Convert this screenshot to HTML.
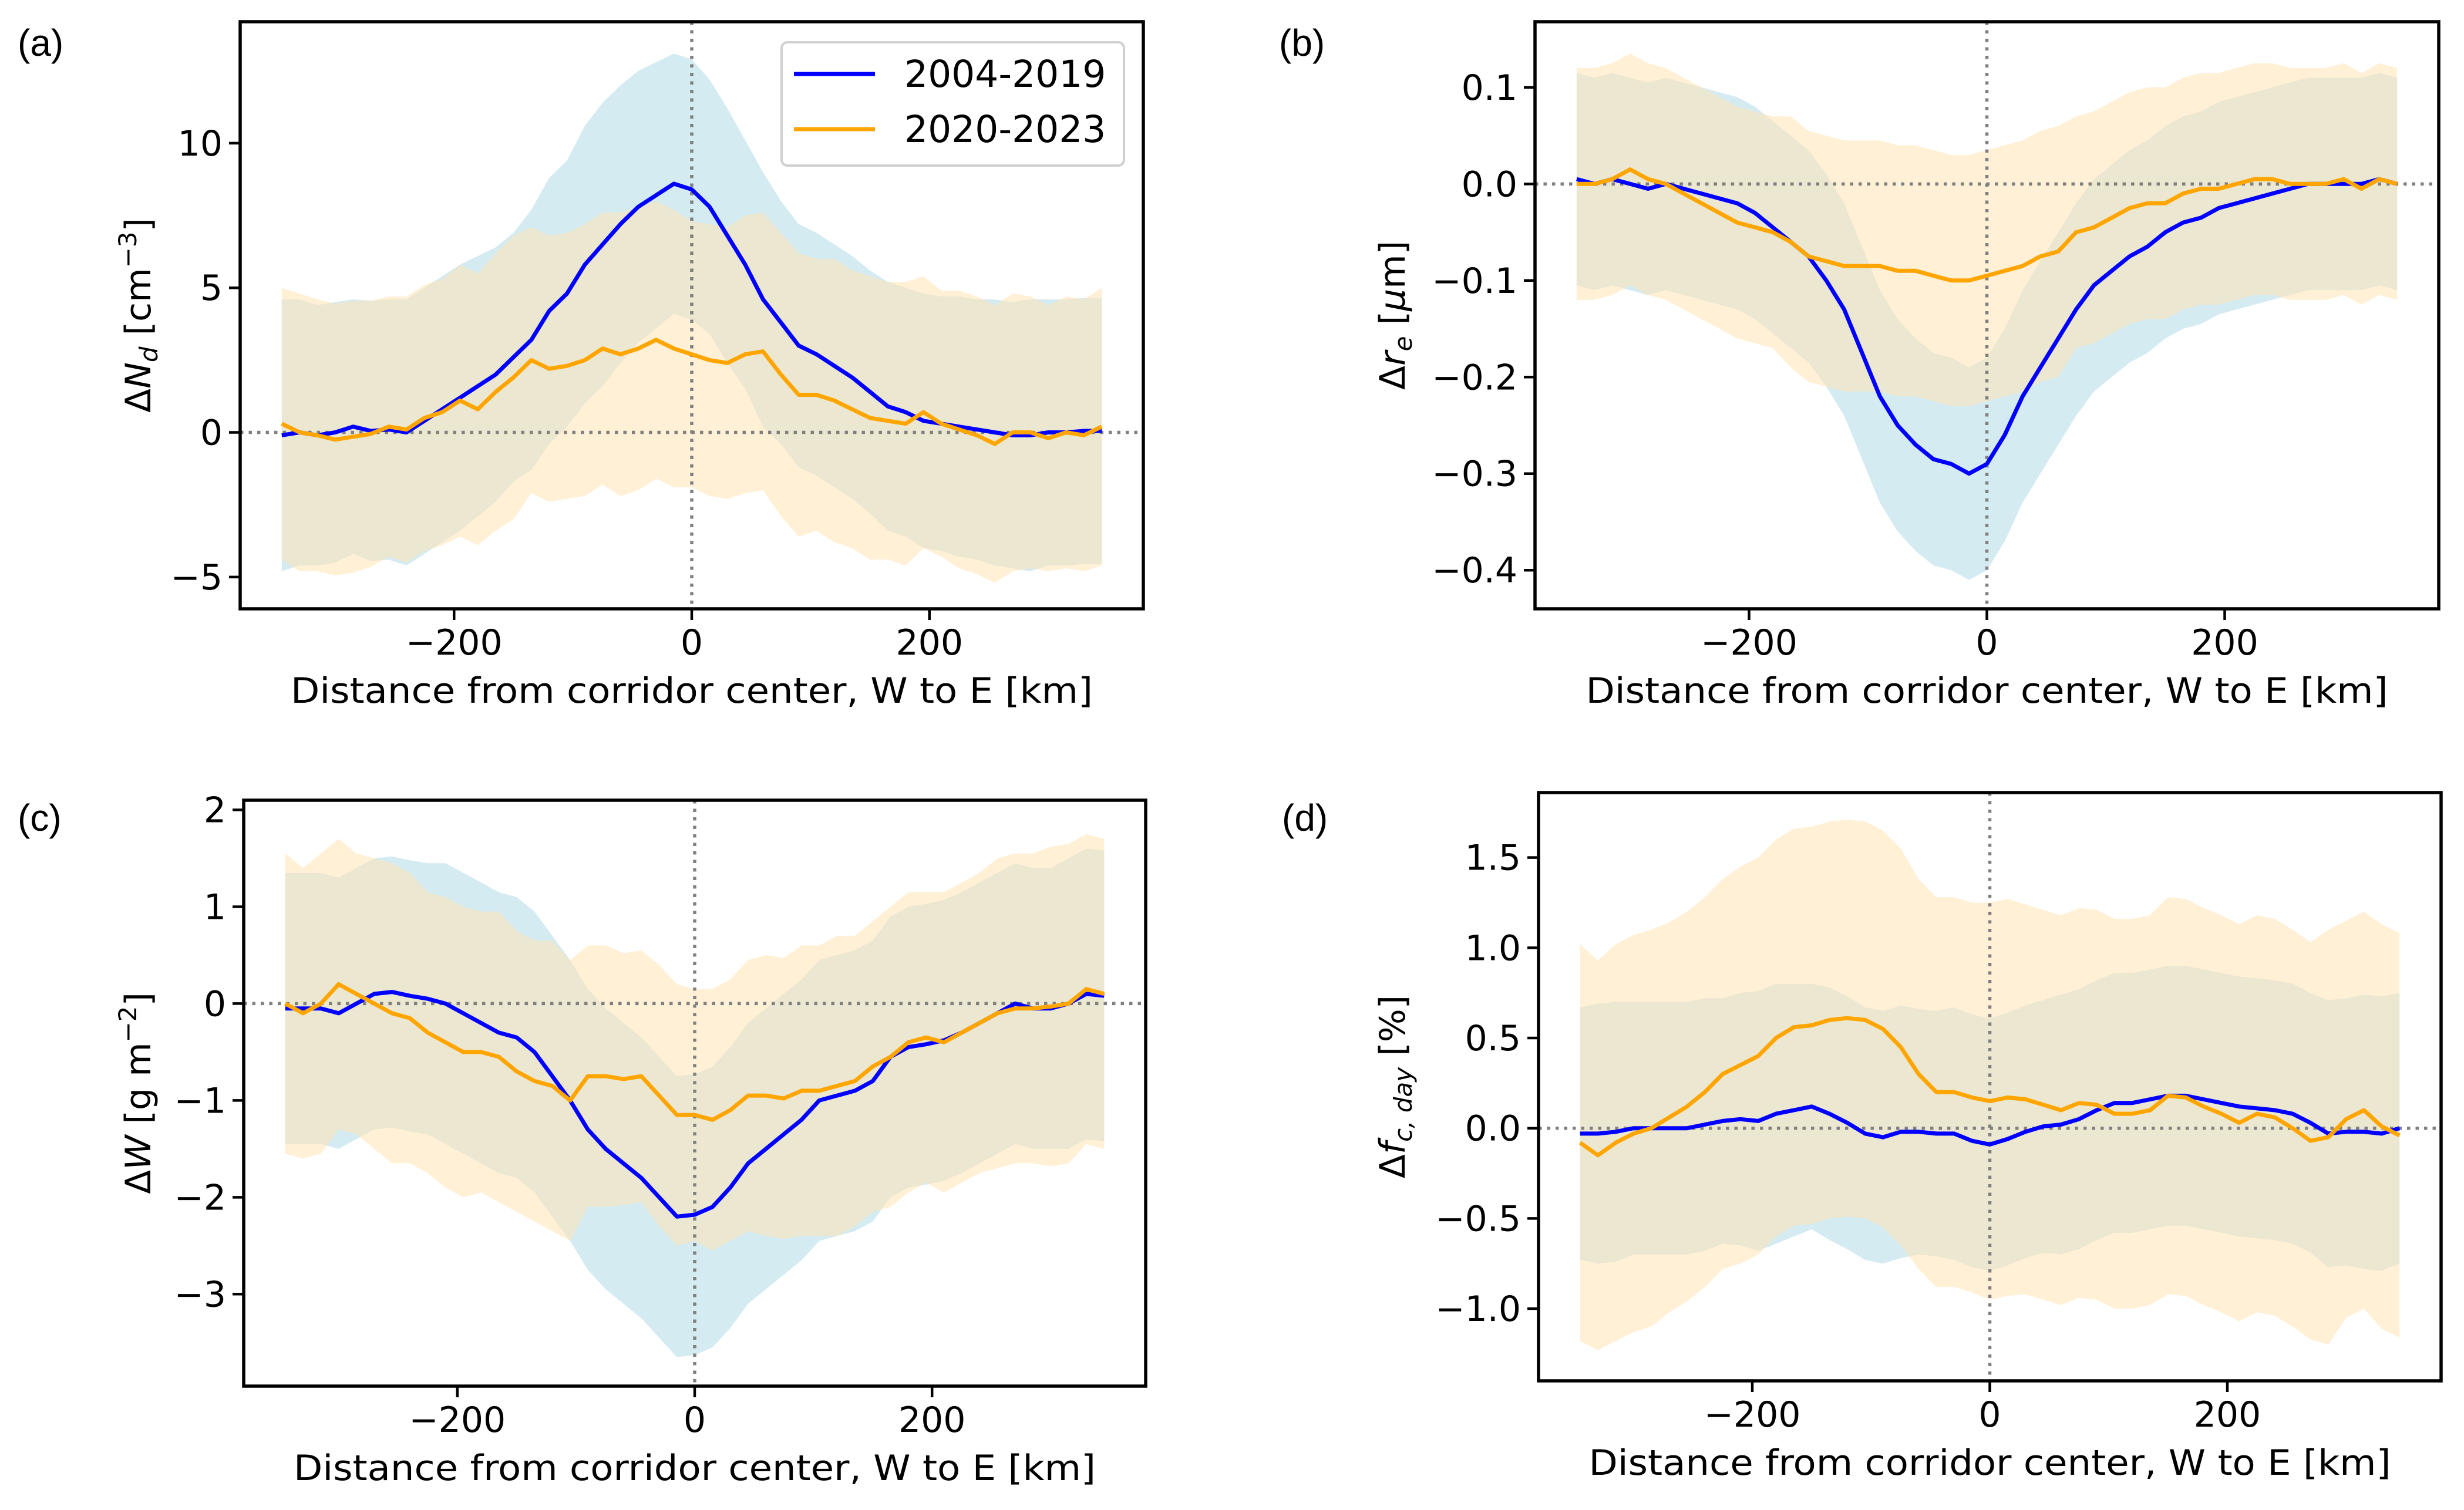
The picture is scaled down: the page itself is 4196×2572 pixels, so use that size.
<!DOCTYPE html>
<html><head><meta charset="utf-8"><style>
html,body{margin:0;padding:0;background:#fff;}
svg{display:block;font-family:"DejaVu Sans","Liberation Sans",sans-serif;}
</style></head><body>
<svg id="fig" width="4196" height="2572" viewBox="0 0 4196 2572" xmlns="http://www.w3.org/2000/svg"></svg>
<script>
const xs = [-345,-330,-315,-300,-285,-270,-255,-240,-225,-210,-195,-180,-165,-150,-135,-120,-105,-90,-75,-60,-45,-30,-15,0,15,30,45,60,75,90,105,120,135,150,165,180,195,210,225,240,255,270,285,300,315,330,345];
const seriesNames = ["2004-2019","2020-2023"];
const xTicks = [-200,0,200];
const xTickLabels = ["\u2212200","0","200"];

const aBlue = [-0.1,0,-0.1,0,0.2,0.05,0.1,0,0.4,0.8,1.2,1.6,2.0,2.6,3.2,4.2,4.8,5.8,6.5,7.2,7.8,8.2,8.6,8.4,7.8,6.8,5.8,4.6,3.8,3.0,2.7,2.3,1.9,1.4,0.9,0.7,0.4,0.3,0.2,0.1,0,-0.1,-0.1,0,0,0.05,0.05];
const aBlueSd = [4.7,4.6,4.5,4.5,4.4,4.5,4.5,4.6,4.6,4.6,4.6,4.5,4.4,4.3,4.5,4.6,4.6,4.8,4.9,4.8,4.7,4.6,4.5,4.5,4.4,4.4,4.3,4.4,4.2,4.2,4.2,4.2,4.2,4.2,4.3,4.3,4.4,4.4,4.5,4.5,4.6,4.6,4.7,4.6,4.6,4.6,4.6];
const aOrange = [0.3,0,-0.1,-0.25,-0.15,-0.05,0.2,0.1,0.5,0.7,1.1,0.8,1.4,1.9,2.5,2.2,2.3,2.5,2.9,2.7,2.9,3.2,2.9,2.7,2.5,2.4,2.7,2.8,2.0,1.3,1.3,1.1,0.8,0.5,0.4,0.3,0.7,0.3,0.1,-0.1,-0.4,0.0,0.0,-0.2,0.0,-0.1,0.2];
const aOrangeSd = [4.7,4.8,4.7,4.7,4.7,4.6,4.5,4.6,4.6,4.6,4.7,4.7,4.8,4.9,4.6,4.6,4.6,4.7,4.7,4.9,4.9,4.8,4.8,4.6,4.7,4.7,4.8,4.8,4.9,4.9,4.7,4.9,4.8,4.9,4.8,4.9,4.7,4.6,4.8,4.8,4.8,4.8,4.7,4.6,4.7,4.7,4.8];

const bBlue = [0.005,0,0.005,0,-0.005,0,-0.005,-0.01,-0.015,-0.02,-0.03,-0.045,-0.06,-0.075,-0.1,-0.13,-0.175,-0.22,-0.25,-0.27,-0.285,-0.29,-0.3,-0.29,-0.26,-0.22,-0.19,-0.16,-0.13,-0.105,-0.09,-0.075,-0.065,-0.05,-0.04,-0.035,-0.025,-0.02,-0.015,-0.01,-0.005,0,0,0,0,0.005,0];
const bBlueSd = [0.11,0.11,0.11,0.11,0.11,0.11,0.11,0.11,0.11,0.11,0.11,0.11,0.11,0.11,0.11,0.11,0.11,0.11,0.11,0.11,0.11,0.11,0.11,0.11,0.11,0.11,0.11,0.11,0.11,0.11,0.11,0.11,0.11,0.11,0.11,0.11,0.11,0.11,0.11,0.11,0.11,0.11,0.11,0.11,0.11,0.11,0.11];
const bOrange = [0,0,0.005,0.015,0.005,0,-0.01,-0.02,-0.03,-0.04,-0.045,-0.05,-0.06,-0.075,-0.08,-0.085,-0.085,-0.085,-0.09,-0.09,-0.095,-0.1,-0.1,-0.095,-0.09,-0.085,-0.075,-0.07,-0.05,-0.045,-0.035,-0.025,-0.02,-0.02,-0.01,-0.005,-0.005,0,0.005,0.005,0,0,0,0.005,-0.005,0.005,0];
const bOrangeSd = [0.12,0.12,0.12,0.12,0.12,0.12,0.12,0.12,0.12,0.12,0.12,0.12,0.13,0.13,0.13,0.13,0.13,0.13,0.13,0.13,0.13,0.13,0.13,0.13,0.13,0.13,0.13,0.13,0.12,0.12,0.12,0.12,0.12,0.12,0.12,0.12,0.12,0.12,0.12,0.12,0.12,0.12,0.12,0.12,0.12,0.12,0.12];

const cBlue = [-0.05,-0.05,-0.05,-0.1,0,0.1,0.12,0.08,0.05,0.0,-0.1,-0.2,-0.3,-0.35,-0.5,-0.75,-1.0,-1.3,-1.5,-1.65,-1.8,-2.0,-2.2,-2.18,-2.1,-1.9,-1.65,-1.5,-1.35,-1.2,-1.0,-0.95,-0.9,-0.8,-0.55,-0.45,-0.42,-0.38,-0.3,-0.2,-0.1,0,-0.05,-0.05,0,0.1,0.08];
const cBlueSd = [1.4,1.4,1.4,1.4,1.4,1.4,1.4,1.4,1.4,1.45,1.45,1.45,1.45,1.45,1.45,1.45,1.45,1.45,1.45,1.45,1.45,1.45,1.45,1.45,1.45,1.45,1.45,1.45,1.45,1.45,1.45,1.45,1.45,1.45,1.45,1.45,1.45,1.45,1.45,1.45,1.45,1.45,1.45,1.45,1.5,1.5,1.5];
const cOrange = [0,-0.1,0,0.2,0.1,0.0,-0.1,-0.15,-0.3,-0.4,-0.5,-0.5,-0.55,-0.7,-0.8,-0.85,-1.0,-0.75,-0.75,-0.78,-0.75,-0.95,-1.15,-1.15,-1.2,-1.1,-0.95,-0.95,-0.98,-0.9,-0.9,-0.85,-0.8,-0.65,-0.55,-0.4,-0.35,-0.4,-0.3,-0.2,-0.1,-0.05,-0.05,-0.03,0,0.15,0.1];
const cOrangeSd = [1.55,1.5,1.55,1.5,1.45,1.5,1.55,1.5,1.45,1.5,1.5,1.45,1.5,1.45,1.45,1.5,1.45,1.35,1.35,1.3,1.3,1.35,1.35,1.3,1.35,1.35,1.4,1.45,1.45,1.5,1.5,1.55,1.5,1.5,1.55,1.55,1.5,1.55,1.55,1.55,1.6,1.6,1.6,1.65,1.65,1.6,1.6];

const dBlue = [-0.03,-0.03,-0.02,0.0,0.0,0.0,0.0,0.02,0.04,0.05,0.04,0.08,0.1,0.12,0.08,0.03,-0.03,-0.05,-0.02,-0.02,-0.03,-0.03,-0.07,-0.09,-0.06,-0.02,0.01,0.02,0.05,0.1,0.14,0.14,0.16,0.18,0.18,0.16,0.14,0.12,0.11,0.1,0.08,0.03,-0.03,-0.02,-0.02,-0.03,0.0];
const dBlueSd = [0.7,0.72,0.72,0.7,0.7,0.7,0.7,0.7,0.68,0.7,0.72,0.72,0.7,0.68,0.7,0.7,0.7,0.7,0.7,0.68,0.68,0.7,0.7,0.7,0.7,0.7,0.7,0.72,0.72,0.72,0.72,0.72,0.72,0.72,0.72,0.72,0.72,0.72,0.72,0.72,0.72,0.72,0.74,0.74,0.76,0.76,0.75];
const dOrange = [-0.08,-0.15,-0.08,-0.03,0.0,0.06,0.12,0.2,0.3,0.35,0.4,0.5,0.56,0.57,0.6,0.61,0.6,0.55,0.45,0.3,0.2,0.2,0.17,0.15,0.17,0.16,0.13,0.1,0.14,0.13,0.08,0.08,0.1,0.18,0.17,0.12,0.08,0.03,0.08,0.06,0.0,-0.07,-0.05,0.05,0.1,0.01,-0.04];
const dOrangeSd = [1.1,1.08,1.1,1.1,1.1,1.08,1.08,1.08,1.08,1.1,1.1,1.1,1.1,1.1,1.1,1.1,1.1,1.1,1.1,1.08,1.08,1.08,1.08,1.1,1.1,1.08,1.08,1.08,1.08,1.08,1.08,1.08,1.08,1.1,1.1,1.1,1.1,1.1,1.1,1.1,1.1,1.1,1.15,1.1,1.1,1.12,1.12];

const aYTicks = [-5,0,5,10];
const aYTickLabels = ["\u22125","0","5","10"];
const bYTicks = [-0.4,-0.3,-0.2,-0.1,0,0.1];
const bYTickLabels = ["\u22120.4","\u22120.3","\u22120.2","\u22120.1","0.0","0.1"];
const cYTicks = [-3,-2,-1,0,1,2];
const cYTickLabels = ["\u22123","\u22122","\u22121","0","1","2"];
const dYTicks = [-1,-0.5,0,0.5,1,1.5];
const dYTickLabels = ["\u22121.0","\u22120.5","0.0","0.5","1.0","1.5"];

const NS = "http://www.w3.org/2000/svg";
const svg = document.getElementById("fig");
function mk(tag, attrs, parent){
  const e = document.createElementNS(NS, tag);
  for (const k in attrs) e.setAttribute(k, attrs[k]);
  (parent||svg).appendChild(e);
  return e;
}

const panels = [
  {id:"a", L:409, R:1947, T:37, B:1037, ymin:-6.1, ymax:14.2, blue:aBlue, blueSd:aBlueSd, orange:aOrange, orangeSd:aOrangeSd, yt:aYTicks, ytl:aYTickLabels, letterX:30, letterY:95},
  {id:"b", L:2614, R:4153, T:37, B:1037, ymin:-0.44, ymax:0.168, blue:bBlue, blueSd:bBlueSd, orange:bOrange, orangeSd:bOrangeSd, yt:bYTicks, ytl:bYTickLabels, letterX:2178, letterY:95},
  {id:"c", L:415, R:1951, T:1363, B:2361, ymin:-3.95, ymax:2.1, blue:cBlue, blueSd:cBlueSd, orange:cOrange, orangeSd:cOrangeSd, yt:cYTicks, ytl:cYTickLabels, letterX:30, letterY:1415},
  {id:"d", L:2620, R:4157, T:1350, B:2352, ymin:-1.40, ymax:1.86, blue:dBlue, blueSd:dBlueSd, orange:dOrange, orangeSd:dOrangeSd, yt:dYTicks, ytl:dYTickLabels, letterX:2183, letterY:1415}
];
const XMIN = -380, XMAX = 380;

panels.forEach(p => {
  const g = mk("g", {});
  
  
  const sx = v => p.L + (v - XMIN) / (XMAX - XMIN) * (p.R - p.L);
  const sy = v => p.B - (v - p.ymin) / (p.ymax - p.ymin) * (p.B - p.T);

  function band(mean, sd, fill, op, name){
    let d = "";
    xs.forEach((x,i)=>{ d += (i?"L":"M") + sx(x).toFixed(1) + "," + sy(mean[i]+sd[i]).toFixed(1); });
    for (let i = xs.length-1; i>=0; i--) d += "L" + sx(xs[i]).toFixed(1) + "," + sy(mean[i]-sd[i]).toFixed(1);
    d += "Z";
    const e = mk("path", {d:d, fill:fill, "fill-opacity":op, stroke:"none"}, g);
    
    
  }
  function line(mean, color, name){
    const pts = xs.map((x,i)=> sx(x).toFixed(1) + "," + sy(mean[i]).toFixed(1)).join(" ");
    const e = mk("polyline", {points:pts, fill:"none", stroke:color, "stroke-width":7, "stroke-linejoin":"round"}, g);
    
    
  }
  band(p.blue, p.blueSd, "#add8e6", 0.52, "band-2004-2019");
  band(p.orange, p.orangeSd, "#ffe4b5", 0.55, "band-2020-2023");

  const h = mk("line", {x1:p.L, x2:p.R, y1:sy(0), y2:sy(0), stroke:"#808080", "stroke-width":5.5, "stroke-dasharray":"5.5 9"}, g);
  
  
  const v = mk("line", {x1:sx(0), x2:sx(0), y1:p.T, y2:p.B, stroke:"#808080", "stroke-width":5.5, "stroke-dasharray":"5.5 9"}, g);
  
  

  line(p.blue, "#0000ff", "line-2004-2019");
  line(p.orange, "#ffa500", "line-2020-2023");

  const fr = mk("rect", {x:p.L, y:p.T, width:p.R-p.L, height:p.B-p.T, fill:"none", stroke:"#000", "stroke-width":5.5}, g);
  
  

  xTicks.forEach((t,i)=>{
    const X = sx(t);
    const tk = mk("line", {x1:X, x2:X, y1:p.B, y2:p.B+19, stroke:"#000", "stroke-width":4.5}, g);
    
    
    const tl = mk("text", {x:X, y:p.B+78, "font-size":60, "text-anchor":"middle", fill:"#000"}, g);
    tl.textContent = xTickLabels[i];
    
    
  });
  p.yt.forEach((t,i)=>{
    const Y = sy(t);
    const tk = mk("line", {x1:p.L-19, x2:p.L, y1:Y, y2:Y, stroke:"#000", "stroke-width":4.5}, g);
    
    
    const tl = mk("text", {x:p.L-30, y:Y+21, "font-size":60, "text-anchor":"end", fill:"#000"}, g);
    tl.textContent = p.ytl[i];
    
    
  });
  const xl = mk("text", {x:(p.L+p.R)/2, y:p.B+160, "font-size":60, "text-anchor":"middle", fill:"#000", textLength:1366, lengthAdjust:"spacingAndGlyphs"}, g);
  xl.textContent = "Distance from corridor center, W to E [km]";
  
  

  const lt = mk("text", {x:p.letterX, y:p.letterY, "font-size":64, fill:"#000", "font-family":"Liberation Sans, sans-serif"}, g);
  lt.textContent = "(" + p.id + ")";
  
  
});

svg.insertAdjacentHTML("beforeend", `
<text transform="translate(256,537) rotate(-90)" font-size="60" text-anchor="middle">Δ<tspan font-style="italic">N</tspan><tspan font-style="italic" font-size="42" dy="12">d</tspan><tspan dy="-12"> [cm</tspan><tspan font-size="42" dy="-24">−3</tspan><tspan dy="24">]</tspan></text>
<text transform="translate(2392,537) rotate(-90)" font-size="60" text-anchor="middle">Δ<tspan font-style="italic">r</tspan><tspan font-style="italic" font-size="42" dy="12">e</tspan><tspan dy="-12"> [</tspan><tspan font-style="italic">μ</tspan><tspan>m]</tspan></text>
<text transform="translate(256,1862) rotate(-90)" font-size="60" text-anchor="middle">Δ<tspan font-style="italic">W</tspan><tspan> [g m</tspan><tspan font-size="42" dy="-24">−2</tspan><tspan dy="24">]</tspan></text>
<text transform="translate(2392,1851) rotate(-90)" font-size="60" text-anchor="middle">Δ<tspan font-style="italic">f</tspan><tspan font-style="italic" font-size="42" dy="12">c, day</tspan><tspan dy="-12"> [%]</tspan></text>
<g>
  <rect x="1331" y="72" width="583" height="210" rx="10" fill="#fff" fill-opacity="0.85" stroke="#d0d0d0" stroke-width="4"/>
  <line x1="1352" x2="1490" y1="126" y2="126" stroke="#0000ff" stroke-width="7"/>
  <text x="1540" y="148" font-size="63">2004-2019</text>
  <line x1="1352" x2="1490" y1="220" y2="220" stroke="#ffa500" stroke-width="7"/>
  <text x="1540" y="242" font-size="63">2020-2023</text>
</g>`);
</script>
</body></html>
